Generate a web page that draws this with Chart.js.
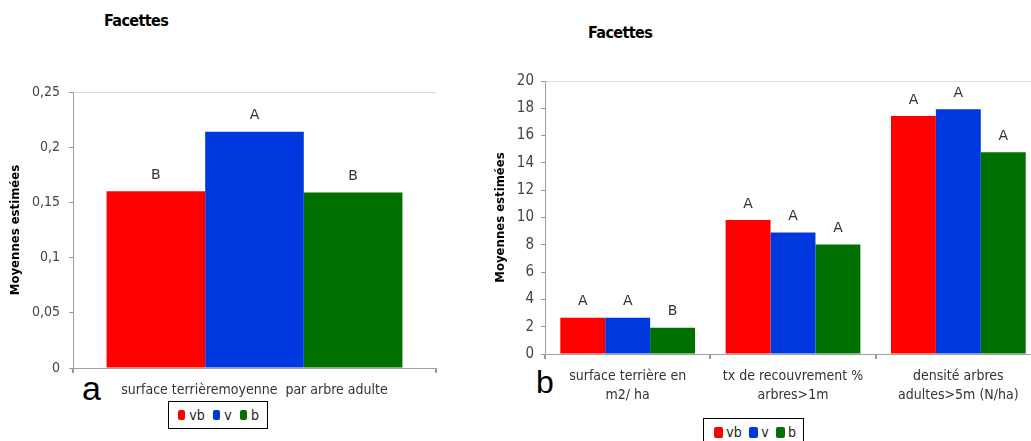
<!DOCTYPE html>
<html>
<head>
<meta charset="utf-8">
<script src="https://cdn.jsdelivr.net/npm/chart.js@4.4.1/dist/chart.umd.min.js"></script>
<style>
html,body{margin:0;padding:0;overflow:hidden}
body{width:1031px;height:441px;position:relative;background:#fff;font-family:"DejaVu Sans Condensed","DejaVu Sans",sans-serif}
canvas{position:absolute;top:0}
.title{position:absolute;font-weight:bold;font-size:16px;line-height:16px;letter-spacing:-0.6px;color:#000}
.panel{position:absolute;font-family:"Liberation Sans",Arial,sans-serif;line-height:1;color:#000}
.legend{position:absolute;border:1px solid #000;box-sizing:border-box;display:flex;align-items:center;font-size:14px;color:#222;background:#fff}
.legend .sw{display:inline-block;border-radius:2px}
</style>
</head>
<body>
<div class="title" style="left:104px;top:13px">Facettes</div>
<div class="title" style="left:588px;top:25px">Facettes</div>
<div class="panel" style="left:82px;top:371px;font-size:34px">a</div>
<div class="panel" style="left:536px;top:366px;font-size:32px">b</div>
<canvas id="chartA" width="460" height="441" style="left:0"></canvas>
<canvas id="chartB" width="580" height="441" style="left:480px"></canvas>
<div class="legend" id="legendA" style="left:168px;top:401px;width:100px;height:28px;padding-left:9px"></div>
<div class="legend" id="legendB" style="left:703px;top:418px;width:101px;height:28px;padding-left:10px"></div>
<script>
// series (same three groups in both panels)
var seriesNames = ['vb', 'v', 'b']
var seriesColors = ['#ff0000', '#0038e0', '#007000']

// panel a
var labelsA = ['surface terrièremoyenne  par arbre adulte']
var vbA = [0.16]
var vA = [0.214]
var bA = [0.159]
var lettersA = [['B'], ['A'], ['B']]
var ticksA = [0, 0.05, 0.1, 0.15, 0.2, 0.25]

// panel b
var labelsB = [['surface terrière en', 'm2/ ha'], ['tx de recouvrement %', 'arbres>1m'], ['densité arbres', 'adultes>5m (N/ha)']]
var vbB = [2.65, 9.82, 17.44]
var vB = [2.65, 8.91, 17.93]
var bB = [1.93, 8.03, 14.78]
var lettersB = [['A', 'A', 'A'], ['A', 'A', 'A'], ['B', 'A', 'A']]
var ticksB = [0, 2, 4, 6, 8, 10, 12, 14, 16, 18, 20]

var condensed = '"DejaVu Sans Condensed", "DejaVu Sans", sans-serif'

// letters written above each bar
var letterPlugin = {
    id: 'letters',
    afterDatasetsDraw: function(chart, args, opts){
        var ctx = chart.ctx
        ctx.save()
        ctx.font = '14px "DejaVu Sans", sans-serif'
        ctx.fillStyle = '#333'
        ctx.textAlign = 'center'
        ctx.textBaseline = 'middle'
        chart.data.datasets.forEach(function(ds, i){
            chart.getDatasetMeta(i).data.forEach(function(bar, j){
                ctx.fillText(opts.values[i][j], bar.x, bar.y - 16)
            })
        })
        ctx.restore()
    }
}

function makeChart(id, labels, values, letters, ticks, cfg){
    var yMax = ticks[ticks.length - 1]
    return new Chart(document.getElementById(id), {
        type: 'bar',
        plugins: [letterPlugin],
        data: {
            labels: labels,
            datasets: seriesNames.map(function(name, i){
                return {
                    label: name,
                    data: values[i],
                    backgroundColor: seriesColors[i],
                    borderWidth: 0,
                    categoryPercentage: 0.815,
                    barPercentage: 1
                }
            })
        },
        options: {
            responsive: false,
            animation: false,
            layout: { padding: { left: 0, right: cfg.padRight, top: cfg.top, bottom: 0 } },
            plugins: {
                legend: { display: false },
                tooltip: { enabled: false },
                letters: { values: letters }
            },
            scales: {
                x: {
                    offset: true,
                    afterFit: function(s){ s.height = cfg.xHeight },
                    border: { color: '#a0a0a0' },
                    grid: {
                        offset: true,
                        drawOnChartArea: cfg.rightFrame,
                        tickLength: 5,
                        tickColor: '#999',
                        lineWidth: 2,
                        color: function(c){ return c.index > 0 && c.index == labels.length ? '#dadada' : 'rgba(0,0,0,0)' }
                    },
                    ticks: {
                        padding: 8,
                        color: '#333',
                        font: { family: condensed, size: 14, lineHeight: 1.36 }
                    }
                },
                y: {
                    min: 0,
                    max: yMax,
                    afterFit: function(s){ s.width = cfg.yWidth },
                    afterBuildTicks: function(s){ s.ticks = ticks.map(function(v){ return { value: v } }) },
                    border: { color: '#a0a0a0' },
                    grid: {
                        tickLength: 4,
                        tickColor: '#999',
                        color: function(c){ return c.tick && Math.abs(c.tick.value - yMax) < 1e-9 ? '#dadada' : 'rgba(0,0,0,0)' }
                    },
                    ticks: {
                        padding: cfg.tickPad,
                        color: '#444',
                        font: { family: condensed, size: cfg.tickSize },
                        callback: function(v){ return String(Math.round(v * 100) / 100).replace('.', ',') }
                    },
                    title: {
                        display: true,
                        text: 'Moyennes estimées',
                        color: '#000',
                        padding: { top: cfg.titlePad, bottom: 0 },
                        font: { family: condensed, size: 13, weight: 'bold' }
                    }
                }
            }
        }
    })
}

makeChart('chartA', labelsA, [vbA, vA, bA], lettersA, ticksA,
    { top: 92, padRight: 24, xHeight: 73, yWidth: 73, tickPad: 9, tickSize: 14, titlePad: 8, rightFrame: true })
makeChart('chartB', labelsB, [vbB, vB, bB], lettersB, ticksB,
    { top: 81, padRight: 19, xHeight: 87, yWidth: 65, tickPad: 7, tickSize: 15, titlePad: 13, rightFrame: false })

// legends built from the series
function buildLegend(id, size, gap, space){
    var box = document.getElementById(id)
    seriesNames.forEach(function(name, i){
        var sw = document.createElement('span')
        sw.className = 'sw'
        sw.style.width = size + 'px'
        sw.style.height = size + 'px'
        sw.style.background = seriesColors[i]
        sw.style.marginRight = gap + 'px'
        var t = document.createElement('span')
        t.textContent = name
        t.style.marginRight = space + 'px'
        box.appendChild(sw)
        box.appendChild(t)
    })
}
buildLegend('legendA', 10, 4, 8)
buildLegend('legendB', 11, 3, 7)
</script>
</body>
</html>
